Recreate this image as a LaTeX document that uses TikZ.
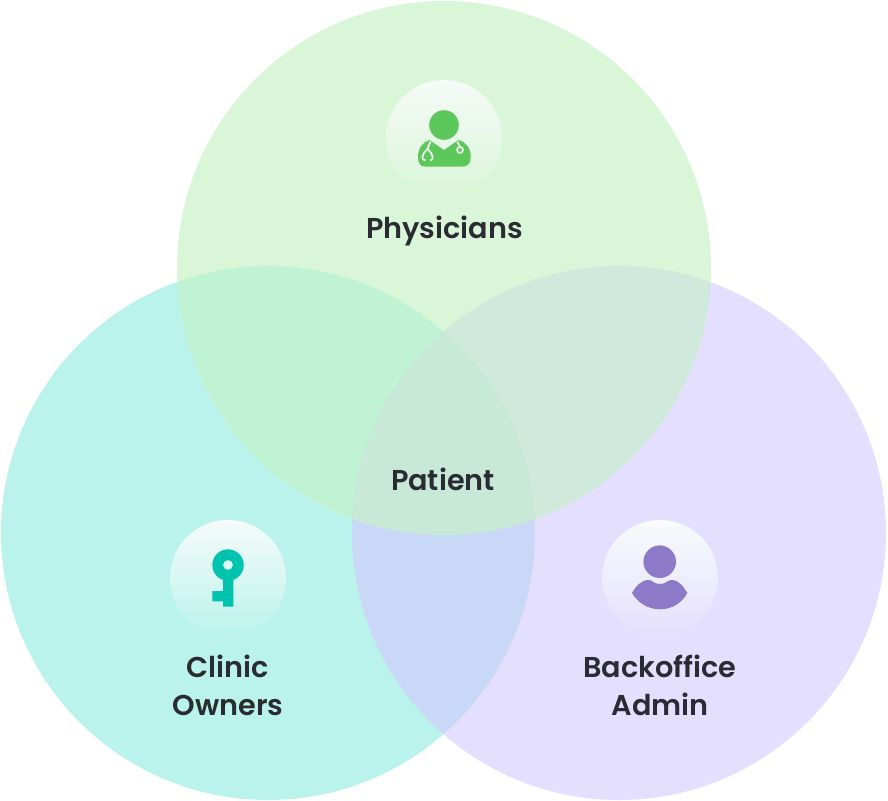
\documentclass[tikz,border=0pt]{standalone}
\usepackage{fontspec}
\setmainfont{Poppins}[UprightFont=* Medium,BoldFont=* SemiBold]
\definecolor{cT}{HTML}{DAF6D8}
\definecolor{cL}{HTML}{BAF3EB}
\definecolor{cR}{HTML}{E5DFFF}
\definecolor{cTL}{HTML}{BFF3D4}
\definecolor{cTR}{HTML}{CFE9DC}
\definecolor{cLR}{HTML}{C9D8F6}
\definecolor{cC}{HTML}{C8E8D8}
\definecolor{ink}{HTML}{2A2B33}
\definecolor{docg}{HTML}{5CC75A}
\definecolor{keyg}{HTML}{00C3AD}
\definecolor{perp}{HTML}{8C7AC8}
\definecolor{bTa}{HTML}{F6FAF8}
\definecolor{bTb}{HTML}{E8F9EA}
\definecolor{bLa}{HTML}{F6FBFA}
\definecolor{bLb}{HTML}{D9F8F5}
\definecolor{bRa}{HTML}{F7FBFA}
\definecolor{bRb}{HTML}{F2EDFF}
\tikzset{
  disc/.style={circle,minimum size=534pt,inner sep=0pt,fill=#1},
  label/.style={font=\fontsize{28.7}{38}\selectfont\bfseries,text=ink,align=center,inner sep=0pt},
  badge/.style n args={3}{circle,minimum size=116pt,inner sep=0pt,top color=#1,middle color=#2,bottom color=#3},
  scope line/.style={white!85!docg,line width=1.8pt}
}
\begin{document}
\begin{tikzpicture}[x=1pt,y=-1pt]
\useasboundingbox (0,0) rectangle (888,800);
\node[disc=cL] (left) at (268,533) {};
\node[disc=cR] (right) at (619,533) {};
\node[disc=cT] (top) at (444,268) {};
% overlaps
\begin{scope}
  \clip (268,533) circle[radius=267];
  \fill[cTL] (444,268) circle[radius=267];
\end{scope}
\begin{scope}
  \clip (619,533) circle[radius=267];
  \fill[cTR] (444,268) circle[radius=267];
\end{scope}
\begin{scope}
  \clip (268,533) circle[radius=267];
  \fill[cLR] (619,533) circle[radius=267];
  \clip (619,533) circle[radius=267];
  \fill[cC] (444,268) circle[radius=267];
\end{scope}
% badges
\node[badge={bTa}{bTb}{cT}] (b1) at (444,138) {};
\node[badge={bLa}{bLb}{cL}] (b2) at (228,578) {};
\node[badge={bRa}{bRb}{cR}] (b3) at (660,578) {};
% doctor
\fill[docg] (444,125) circle[radius=14.8];
\fill[docg] (429.5,140) -- (444,150) -- (458.5,140) .. controls (466,142) and (470.7,148) .. (470.7,157) .. controls (470.7,163) and (468,166.7) .. (462,166.7) -- (426,166.7) .. controls (420,166.7) and (418,163) .. (418,157) .. controls (418,148) and (423,142) .. (429.5,140) -- cycle;
\draw[scope line] (430.5,141.5) -- (427.5,149);
\draw[scope line] (425.5,160.5) .. controls (421,160) and (421,155) .. (427.5,149) .. controls (434,155) and (434,160) .. (430,160.5);
\draw[scope line] (457.3,141.5) -- (460,147);
\draw[scope line] (460,150) circle[radius=3];
% key
\fill[keyg,even odd rule] (228,565) circle[radius=15.7] (228,565) circle[radius=5];
\fill[keyg] (223,576) -- (233.3,576) -- (233.3,606.7) -- (223,606.7) -- (223,601.3) -- (212.3,601.3) -- (212.3,591) -- (223,591) -- cycle;
% person
\fill[perp] (659.7,561.7) circle[radius=16.3];
\fill[perp] (632,593) .. controls (636,586) and (641,580) .. (649,580) .. controls (652,580) and (654,584) .. (660,584) .. controls (666,584) and (668,580) .. (671,580) .. controls (679,580) and (683,586) .. (687.3,593) .. controls (682,603) and (672,609.3) .. (660,609.3) .. controls (648,609.3) and (638,603) .. (632,593) -- cycle;
% labels
\node[label] (l1) at (444.5,231) {Physicians};
\node[label] (l2) at (443,479) {Patient};
\node[label] (l3) at (228,685.3) {Clinic\\Owners};
\node[label] (l4) at (660,685.3) {Backoffice\\Admin};
\end{tikzpicture}
\end{document}
